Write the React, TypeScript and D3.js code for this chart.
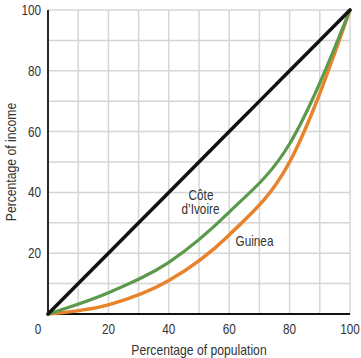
import React from "react";
import * as d3 from "d3";

const populationPct = [0, 20, 40, 60, 80, 100];
const equalityLine = [0, 20, 40, 60, 80, 100];
const coteDIvoire = [0, 7, 17, 33.5, 56, 100];
const guinea = [0, 3, 11, 26, 50, 100];
const xTicks = [20, 40, 60, 80, 100];
const yTicks = [20, 40, 60, 80, 100];
const gridValues = [10, 20, 30, 40, 50, 60, 70, 80, 90, 100];

const W = 361;
const H = 358;
const FONT = "'Liberation Sans', Arial, sans-serif";
const SX = 0.84;

function T({ x, y, anchor = "middle", size = 13, rotate = 0, children }: any) {
  return (
    <text
      transform={`translate(${x},${y}) rotate(${rotate}) scale(${SX},1)`}
      textAnchor={anchor}
      fontSize={size}
      fill="#333"
      fontFamily={FONT}
    >
      {children}
    </text>
  );
}

export default function App() {
  const x = d3.scaleLinear().domain([0, 100]).range([48, 350]);
  const y = d3.scaleLinear().domain([0, 100]).range([314, 10]);

  const line = (vals: number[]) =>
    d3
      .line<number>()
      .x((_, i) => x(populationPct[i]))
      .y((d) => y(d))
      .curve(d3.curveMonotoneX)(vals) || "";

  return (
    <svg
      width={W}
      height={H}
      style={{ position: "absolute", left: 0, top: 0, background: "#fff" }}
    >
      {gridValues.map((v) => (
        <line key={"gx" + v} x1={x(v)} x2={x(v)} y1={y(0)} y2={y(100)} stroke="#d6d6d6" strokeWidth={1.5} />
      ))}
      {gridValues.map((v) => (
        <line key={"gy" + v} x1={x(0)} x2={x(100)} y1={y(v)} y2={y(v)} stroke="#d6d6d6" strokeWidth={1.5} />
      ))}
      <line x1={x(0)} x2={x(0)} y1={y(0)} y2={y(100)} stroke="#111" strokeWidth={1.8} />
      <line x1={x(0)} x2={x(100)} y1={y(0)} y2={y(0)} stroke="#111" strokeWidth={1.8} />

      <path d={line(guinea)} fill="none" stroke="#e8832c" strokeWidth={3.5} strokeLinecap="round" />
      <path d={line(coteDIvoire)} fill="none" stroke="#5b9a4c" strokeWidth={3.2} strokeLinecap="round" />
      <path d={line(equalityLine)} fill="none" stroke="#111" strokeWidth={3.5} strokeLinecap="round" />

      {yTicks.map((v) => (
        <T key={"yt" + v} x={41} y={y(v) + 5} anchor="end" size={14}>
          {v}
        </T>
      ))}
      <T x={38} y={334} size={14}>0</T>
      {xTicks.map((v) => (
        <T key={"xt" + v} x={x(v)} y={334} size={14}>
          {v}
        </T>
      ))}

      <T x={199} y={355} size={14.5}>Percentage of population</T>
      <T x={16} y={y(50)} size={14.5} rotate={-90}>Percentage of income</T>

      <T x={201} y={200} size={14}>Côte</T>
      <T x={200.5} y={213.5} size={14}>d’Ivoire</T>
      <T x={254.5} y={246} size={14}>Guinea</T>
    </svg>
  );
}
